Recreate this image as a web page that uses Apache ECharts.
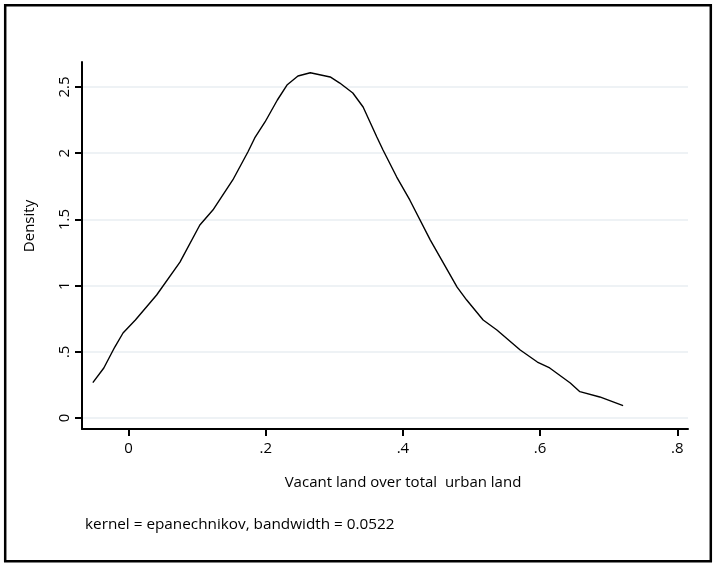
<!DOCTYPE html>
<html>
<head>
<meta charset="utf-8">
<script src="https://cdn.jsdelivr.net/npm/echarts@6/dist/echarts.min.js"></script>
<style>
  html, body { margin: 0; padding: 0; background: #fff; }
  #density { width: 713px; height: 564px; }
</style>
</head>
<body>
<div id="density"></div>
<script>
var densityChart = echarts.init(document.getElementById('density'));

// kernel density estimate
var xValues = [-0.052, -0.036, -0.020, -0.008, 0.010, 0.041, 0.075, 0.104, 0.123, 0.152,
  0.174, 0.184, 0.199, 0.217, 0.231, 0.247, 0.265, 0.294, 0.308, 0.327,
  0.342, 0.362, 0.371, 0.391, 0.410, 0.440, 0.479, 0.493, 0.517, 0.537,
  0.571, 0.596, 0.614, 0.644, 0.658, 0.687, 0.721];
var yValues = [0.267, 0.378, 0.536, 0.642, 0.740, 0.929, 1.178, 1.458, 1.571, 1.798,
  2.009, 2.115, 2.236, 2.402, 2.515, 2.583, 2.608, 2.576, 2.530, 2.455,
  2.349, 2.122, 2.024, 1.820, 1.647, 1.344, 0.989, 0.891, 0.740, 0.665,
  0.514, 0.423, 0.378, 0.264, 0.199, 0.159, 0.093];

var xTicks = [0, 0.2, 0.4, 0.6, 0.8];
var yTicks = [0, 0.5, 1, 1.5, 2, 2.5];

var xTitle = 'Vacant land over total  urban land';
var yTitle = 'Density';
var noteText = 'kernel = epanechnikov, bandwidth = 0.0522';

var fontName = 'Open Sans';

// stata style labels: drop the leading zero
function stataLabel(v){
  var s = String(Math.round(v * 100) / 100);
  if (s.indexOf('0.') === 0) s = s.substring(1);
  return s;
}

var points = [];
for (var i = 0; i < xValues.length; i++){
  points.push([xValues[i], yValues[i]]);
}

var gridLines = [];
for (var j = 0; j < yTicks.length; j++){
  gridLines.push({ yAxis: yTicks[j] });
}

var option = {
  animation: false,
  backgroundColor: '#fff',
  grid: {
    left: 82,
    right: 25,
    top: 62,
    bottom: 135
  },
  xAxis: {
    type: 'value',
    min: -0.0678,
    max: 0.8156,
    axisLine: { show: true, onZero: false, lineStyle: { color: '#000', width: 2 } },
    axisTick: { show: true, length: 7, customValues: xTicks, lineStyle: { color: '#000', width: 2 } },
    axisLabel: {
      customValues: xTicks,
      color: '#000',
      fontFamily: fontName,
      fontSize: 15,
      margin: 12,
      formatter: stataLabel
    },
    splitLine: { show: false }
  },
  yAxis: {
    type: 'value',
    min: -0.083,
    max: 2.689,
    axisLine: { show: true, onZero: false, lineStyle: { color: '#000', width: 2 } },
    axisTick: { show: true, length: 7, customValues: yTicks, lineStyle: { color: '#000', width: 2 } },
    axisLabel: {
      customValues: yTicks,
      rotate: 90,
      color: '#000',
      fontFamily: fontName,
      fontSize: 15,
      margin: 10,
      formatter: stataLabel
    },
    splitLine: { show: false }
  },
  series: [
    {
      type: 'line',
      data: points,
      showSymbol: false,
      smooth: false,
      lineStyle: { color: '#000', width: 1.4 },
      markLine: {
        silent: true,
        symbol: ['none', 'none'],
        label: { show: false },
        lineStyle: { color: '#e8eef2', width: 1.5, type: 'solid' },
        data: gridLines,
        z: -1
      },
      z: 3
    }
  ],
  graphic: [
    {
      type: 'rect',
      shape: { x: 5.2, y: 5.2, width: 705.6, height: 556 },
      style: { fill: 'none', stroke: '#000', lineWidth: 2.5 },
      silent: true
    },
    {
      type: 'text',
      x: 403,
      y: 483,
      style: { text: xTitle, fill: '#000', font: '15px ' + fontName, align: 'center', verticalAlign: 'middle' }
    },
    {
      type: 'text',
      x: 30,
      y: 226,
      rotation: Math.PI / 2,
      style: { text: yTitle, fill: '#000', font: '15px ' + fontName, align: 'center', verticalAlign: 'middle' }
    },
    {
      type: 'text',
      x: 85,
      y: 525,
      style: { text: noteText, fill: '#000', font: '15.3px ' + fontName, align: 'left', verticalAlign: 'middle' }
    }
  ]
};

densityChart.setOption(option);
</script>
</body>
</html>
